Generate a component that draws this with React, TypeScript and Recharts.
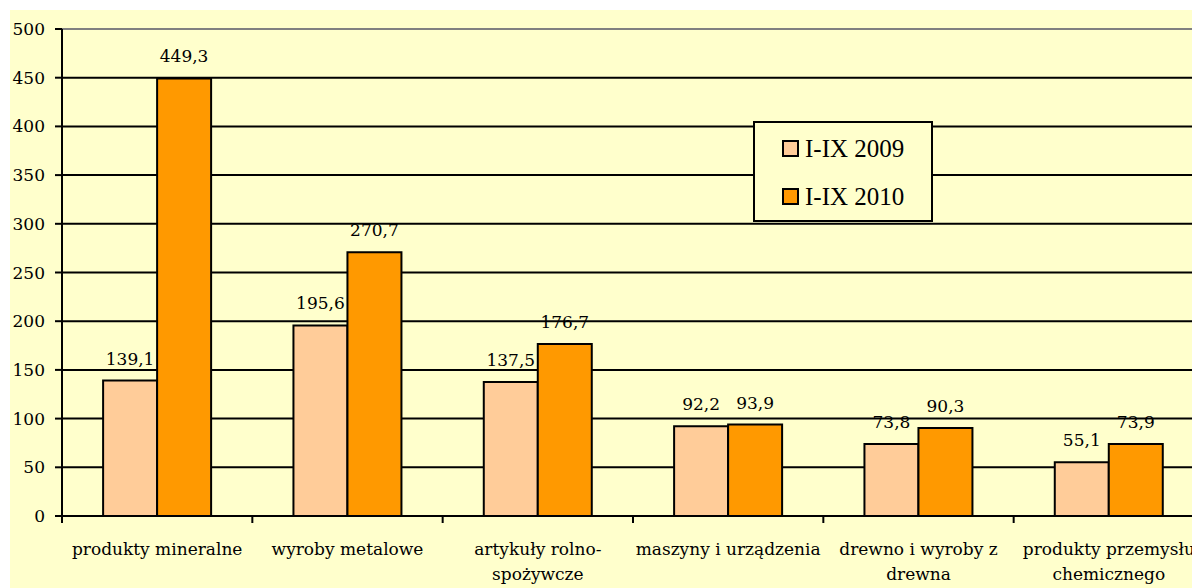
import { Bar, BarChart, CartesianGrid, LabelList, Legend, ReferenceLine, XAxis, YAxis } from "recharts";

const categories = [
  "produkty mineralne",
  "wyroby metalowe",
  "artykuły rolno-\nspożywcze",
  "maszyny i urządzenia",
  "drewno i wyroby z\ndrewna",
  "produkty przemysłu\nchemicznego",
];
const values2009 = [139.1, 195.6, 137.5, 92.2, 73.8, 55.1];
const values2010 = [449.3, 270.7, 176.7, 93.9, 90.3, 73.9];
const seriesNames = ["I-IX 2009", "I-IX 2010"];
const yTicks = [0, 50, 100, 150, 200, 250, 300, 350, 400, 450, 500];

const data = categories.map((name, i) => ({ name, v2009: values2009[i], v2010: values2010[i] }));

// w SVG tylko DejaVu Serif daje szeryfy; legenda (HTML) dostaje Liberation Serif
const svgFont = "DejaVu Serif";
const htmlFont = "'Liberation Serif', 'Times New Roman', serif";
const bg = "#FFFFCC";
const fmt = (v: number) => v.toFixed(1).replace(".", ",");

function CategoryTick(props: any) {
  const { x, y, payload, index, visibleTicksCount } = props;
  const half = payload.offset ?? 0;
  const lines = String(payload.value).split("\n");
  const last = index === visibleTicksCount - 1;
  return (
    <g>
      <line x1={x - half} x2={x - half} y1={y} y2={y + 7} stroke="#000" strokeWidth={2} />
      {last && <line x1={x + half} x2={x + half} y1={y} y2={y + 7} stroke="#000" strokeWidth={2} />}
      <text x={x} y={y + 39} textAnchor="middle" fontFamily={svgFont} fontSize={17} fill="#000">
        {lines.map((l, i) => (
          <tspan key={i} x={x} dy={i === 0 ? 0 : 25}>
            {l}
          </tspan>
        ))}
      </text>
    </g>
  );
}

function LegendBox(props: any) {
  const items = props.payload ?? [];
  return (
    <div
      style={{
        width: 180,
        height: 101,
        boxSizing: "border-box",
        border: "2px solid #000",
        background: bg,
        fontFamily: htmlFont,
        fontSize: 25,
        color: "#000",
        paddingTop: 1,
      }}
    >
      {items.map((e: any) => (
        <div key={e.value} style={{ display: "flex", alignItems: "center", height: 48, paddingLeft: 27 }}>
          <span
            style={{
              display: "inline-block",
              width: 13,
              height: 13,
              border: "2px solid #000",
              background: e.color,
              marginRight: 6,
            }}
          />
          <span style={{ lineHeight: "25px" }}>{e.value}</span>
        </div>
      ))}
    </div>
  );
}

export default function App() {
  return (
    <div style={{ position: "absolute", left: 0, top: 0, width: 1192, height: 588, overflow: "hidden", background: "#fff" }}>
      <div style={{ position: "absolute", left: 10, top: 10 }}>
        <BarChart
          width={1194}
          height={578}
          data={data}
          margin={{ top: 19, right: 0, bottom: 0, left: 0 }}
          barCategoryGap="21.6%"
          barGap={0}
          style={{ background: bg }}
        >
          <CartesianGrid vertical={false} stroke="#000" strokeWidth={2} />
          <XAxis
            dataKey="name"
            height={72}
            interval={0}
            tickLine={false}
            tickSize={0}
            tickMargin={0}
            axisLine={{ stroke: "#000", strokeWidth: 2 }}
            tick={<CategoryTick />}
          />
          <YAxis
            width={52}
            domain={[0, 500]}
            ticks={yTicks}
            interval={0}
            tickSize={7}
            tickMargin={10}
            axisLine={{ stroke: "#000", strokeWidth: 2 }}
            tickLine={{ stroke: "#000", strokeWidth: 2 }}
            tick={{ fill: "#000", fontSize: 17, fontFamily: svgFont }}
          />
          <ReferenceLine y={500} stroke="#808080" strokeWidth={2} />
          <Legend
            layout="vertical"
            align="center"
            verticalAlign="middle"
            wrapperStyle={{ left: 743, top: 111, width: 180, height: 101 }}
            content={<LegendBox />}
          />
          <Bar dataKey="v2009" name={seriesNames[0]} fill="#FFCC99" stroke="#000" strokeWidth={2} isAnimationActive={false}>
            <LabelList dataKey="v2009" position="top" offset={16} formatter={(v: any) => fmt(Number(v))} fill="#000" fontSize={17} fontFamily={svgFont} />
          </Bar>
          <Bar dataKey="v2010" name={seriesNames[1]} fill="#FF9900" stroke="#000" strokeWidth={2} isAnimationActive={false}>
            <LabelList dataKey="v2010" position="top" offset={16} formatter={(v: any) => fmt(Number(v))} fill="#000" fontSize={17} fontFamily={svgFont} />
          </Bar>
        </BarChart>
      </div>
    </div>
  );
}
